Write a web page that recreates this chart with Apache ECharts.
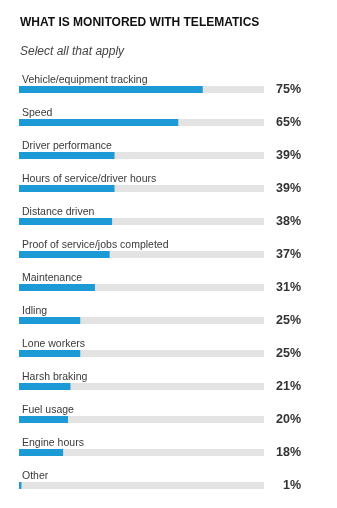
<!DOCTYPE html>
<html>
<head>
<meta charset="utf-8">
<script src="https://cdn.jsdelivr.net/npm/echarts@6/dist/echarts.min.js"></script>
<style>
  html, body { margin: 0; padding: 0; background: #fff; }
  #chart { width: 337px; height: 508px; }
</style>
</head>
<body>
<div id="chart"></div>
<script>
// Share of respondents monitoring each item (%)
const categories = [
  'Vehicle/equipment tracking',
  'Speed',
  'Driver performance',
  'Hours of service/driver hours',
  'Distance driven',
  'Proof of service/jobs completed',
  'Maintenance',
  'Idling',
  'Lone workers',
  'Harsh braking',
  'Fuel usage',
  'Engine hours',
  'Other'
];
const values = [75, 65, 39, 39, 38, 37, 31, 25, 25, 21, 20, 18, 1];
const valueLabels = values.map(v => v + '%');

const chart = echarts.init(document.getElementById('chart'));
chart.setOption({
  animation: false,
  title: {
    text: 'WHAT IS MONITORED WITH TELEMATICS',
    subtext: 'Select all that apply',
    left: 15,
    top: 12,
    itemGap: 17,
    textStyle: {
      fontFamily: 'Liberation Sans, Arial, sans-serif',
      fontSize: 12,
      fontWeight: 'bold',
      color: '#111'
    },
    subtextStyle: {
      fontFamily: 'Liberation Sans, Arial, sans-serif',
      fontSize: 12,
      fontStyle: 'italic',
      color: '#444'
    }
  },
  grid: { left: 19, right: 73, top: 73, bottom: 6, containLabel: false },
  xAxis: {
    type: 'value',
    min: 0,
    max: 100,
    show: false
  },
  yAxis: [
    {
      type: 'category',
      data: categories,
      inverse: true,
      show: false
    },
    {
      type: 'category',
      data: valueLabels,
      inverse: true,
      position: 'right',
      axisLine: { show: false },
      axisTick: { show: false },
      axisLabel: {
        align: 'right',
        margin: 37,
        fontFamily: 'Liberation Sans, Arial, sans-serif',
        fontSize: 12.5,
        fontWeight: 'bold',
        color: '#333'
      }
    }
  ],
  series: [
    {
      type: 'bar',
      data: values,
      yAxisIndex: 0,
      barWidth: 7,
      showBackground: true,
      backgroundStyle: { color: '#e3e3e3' },
      itemStyle: { color: '#1c9ad6' },
      label: {
        show: true,
        position: [3, -11],
        formatter: '{b}',
        fontFamily: 'Liberation Sans, Arial, sans-serif',
        fontSize: 10.5,
        color: '#3a3a3a'
      }
    }
  ]
});
</script>
</body>
</html>
